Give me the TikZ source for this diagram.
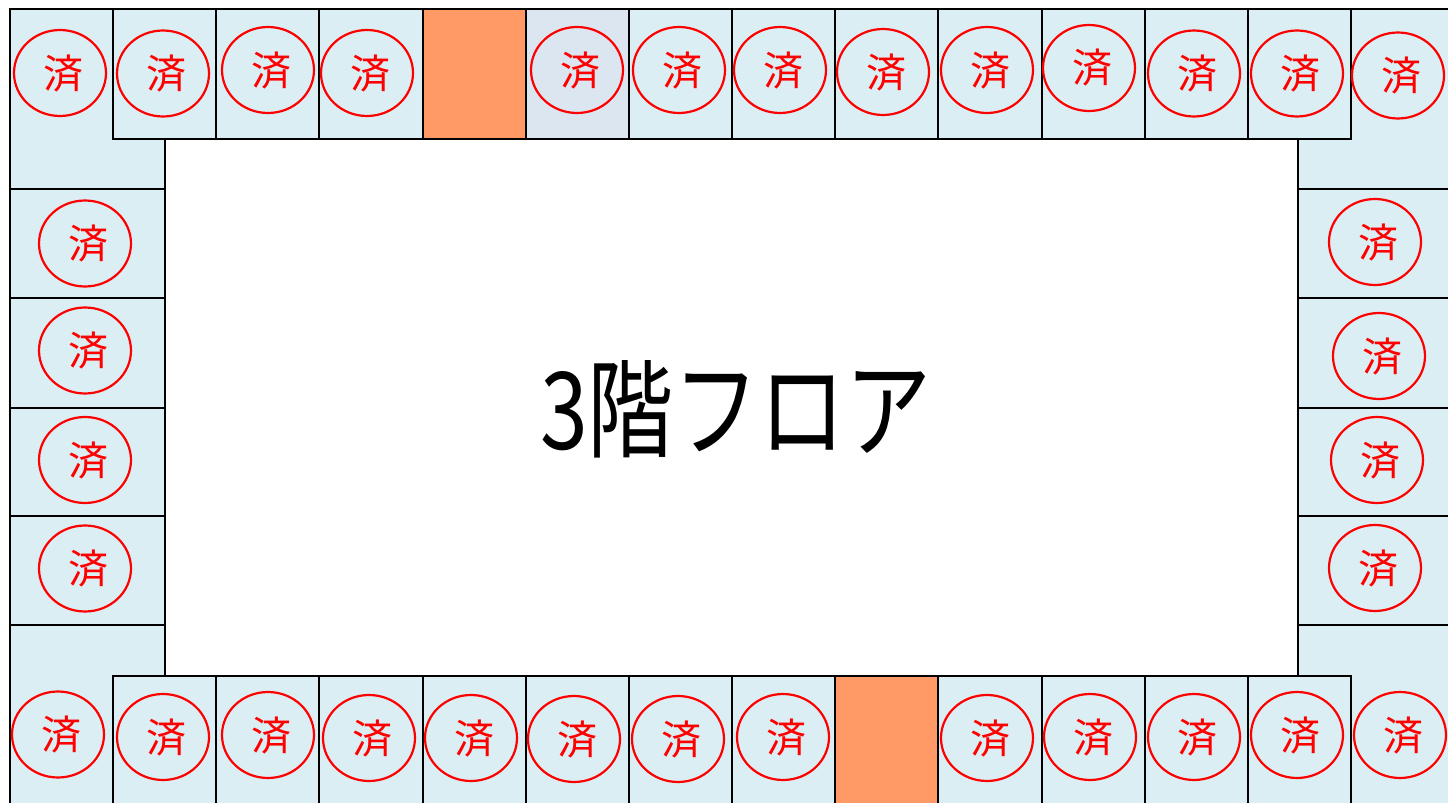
\documentclass[tikz,border=0pt]{standalone}
\usepackage{fontspec}
\newfontfamily\cjk{Noto Sans CJK JP}
\usetikzlibrary{shapes.geometric}
\definecolor{cellblue}{HTML}{DAEEF3}
\definecolor{cellgray}{HTML}{DCE6F1}
\definecolor{cellorange}{HTML}{FF9966}
\tikzset{
  cell/.style={draw=black, line width=1pt, fill=cellblue},
  stamp/.style={draw=red, line width=1.1pt, ellipse, inner sep=0pt,
    minimum width=46pt, minimum height=43pt, text=red,
    font=\cjk\fontsize{20pt}{20pt}\selectfont},
  title/.style={font=\cjk\fontsize{43pt}{43pt}\selectfont, text=black, inner sep=0pt}
}
\newcommand{\stamptext}{\hspace{3pt}済}
\begin{document}
\begin{tikzpicture}[x=0.5pt, y=-0.5pt]
\useasboundingbox (0,0) rectangle (1448,803);
\fill[white] (0,0) rectangle (1448,803);
\clip (0,0) rectangle (1448,803);
% corner blocks
\draw[cell] (10,9) rectangle (165,189);
\draw[cell] (1298,9) rectangle (1453,189);
\draw[cell] (10,625) rectangle (165,806);
\draw[cell] (1298,625) rectangle (1453,806);
% side columns
\foreach \ya/\yb in {189/298, 298/407.5, 407.5/516, 516/625} {
  \draw[cell] (10,\ya) rectangle (165,\yb);
  \draw[cell] (1298,\ya) rectangle (1453,\yb);
}
% top and bottom rows
\foreach \i in {0,...,11} {
  \pgfmathsetmacro{\xa}{113+103.17*\i}
  \pgfmathsetmacro{\xb}{113+103.17*(\i+1)}
  \ifnum\i=3
    \draw[cell, fill=cellorange] (\xa,9) rectangle (\xb,139);
  \else\ifnum\i=4
    \draw[cell, fill=cellgray] (\xa,9) rectangle (\xb,139);
  \else
    \draw[cell] (\xa,9) rectangle (\xb,139);
  \fi\fi
  \ifnum\i=7
    \draw[cell, fill=cellorange] (\xa,676) rectangle (\xb,806);
  \else
    \draw[cell] (\xa,676) rectangle (\xb,806);
  \fi
}
% stamps top row
\foreach \n/\x/\y in {t1/60/73, t2/163/73.5, t3/268/70, t4/367/73, t5/577/70, t6/679/70,
  t7/780/70, t8/883/72, t9/987/70, t10/1089/68, t11/1194/73.5, t12/1297/73.5, t13/1398/75.5} {
  \node[stamp] (\n) at (\x,\y) {\stamptext};
}
% stamps bottom row
\foreach \n/\x/\y in {b1/58/734.5, b2/163/737, b3/268/735, b4/369/738, b5/471/738, b6/574/739,
  b7/678/739, b8/783/737, b9/987/738, b10/1090/737, b11/1194/737, b12/1297/735, b13/1400/735} {
  \node[stamp] (\n) at (\x,\y) {\stamptext};
}
% stamps left and right columns
\foreach \n/\x/\y in {l1/85/243.5, l2/85/350.5, l3/85/460, l4/85/568.5,
  r1/1375/242, r2/1379/356, r3/1377/460, r4/1375/568} {
  \node[stamp] (\n) at (\x,\y) {\stamptext};
}
\node[title] (floor) at (736,409) {\scalebox{1}[1.25]{3階フロア}};
\end{tikzpicture}
\end{document}
